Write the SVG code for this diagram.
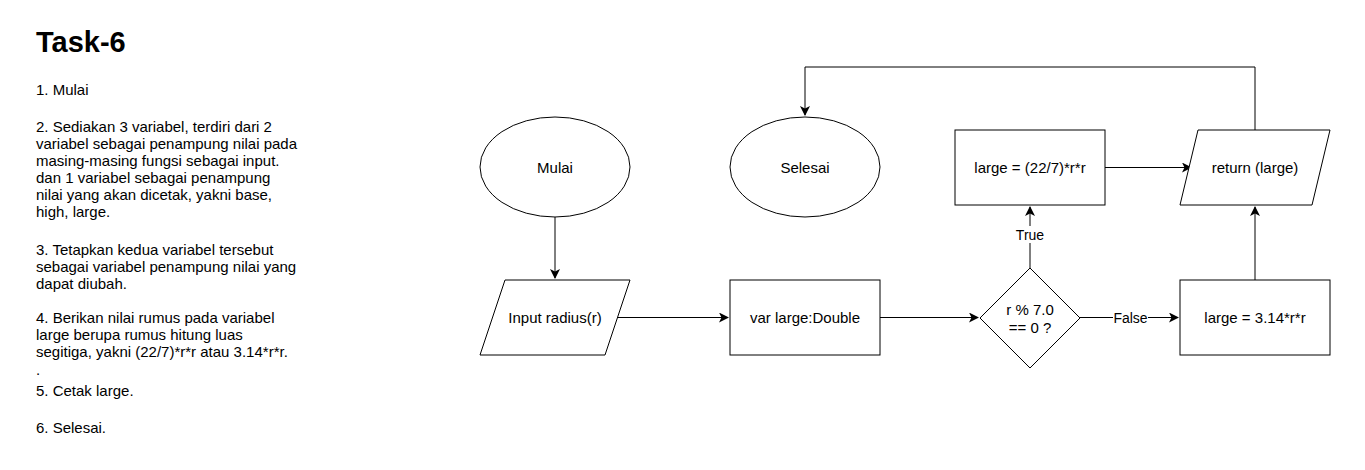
<svg xmlns="http://www.w3.org/2000/svg" width="1365" height="470" viewBox="0 0 1365 470">
<defs>
<style>
.n{fill:#fff;stroke:#000;stroke-width:1}
.t{font-family:"Liberation Sans",Arial,sans-serif;font-size:15px;fill:#000;text-anchor:middle;dominant-baseline:central}
.d{font-family:"Liberation Sans",Arial,sans-serif;font-size:15px;fill:#000}
.e{fill:none;stroke:#000;stroke-width:1}
.lb{fill:#fff}
</style>
<marker id="ah" viewBox="0 0 10 10" refX="9" refY="5" markerWidth="10" markerHeight="10" markerUnits="userSpaceOnUse" orient="auto">
<path d="M0,0 L10,5 L0,10 L2.5,5 Z" fill="#000"/>
</marker>
</defs>
<rect width="1365" height="470" fill="#fff"/>
<g id="description">
<text x="36" y="52" font-family="Liberation Sans,Arial,sans-serif" font-size="29" font-weight="bold">Task-6</text>
<text class="d" x="36" y="94.5">1. Mulai</text>
<text class="d" x="36" y="131.5">2. Sediakan 3 variabel, terdiri dari 2</text>
<text class="d" x="36" y="148.5">variabel sebagai penampung nilai pada</text>
<text class="d" x="36" y="165.5">masing-masing fungsi sebagai input.</text>
<text class="d" x="36" y="182.5">dan 1 variabel sebagai penampung</text>
<text class="d" x="36" y="199.5">nilai yang akan dicetak, yakni base,</text>
<text class="d" x="36" y="216.5">high, large.</text>
<text class="d" x="36" y="254.5">3. Tetapkan kedua variabel tersebut</text>
<text class="d" x="36" y="271.5">sebagai variabel penampung nilai yang</text>
<text class="d" x="36" y="288.5">dapat diubah.</text>
<text class="d" x="36" y="322.5">4. Berikan nilai rumus pada variabel</text>
<text class="d" x="36" y="339.5">large berupa rumus hitung luas</text>
<text class="d" x="36" y="356.5">segitiga, yakni (22/7)*r*r atau 3.14*r*r.</text>
<text class="d" x="36" y="375">.</text>
<text class="d" x="36" y="396">5. Cetak large.</text>
<text class="d" x="36" y="432.5">6. Selesai.</text>
</g>
<g id="connectors">
<path class="e" d="M555,217 L555,278" marker-end="url(#ah)"/>
<path class="e" d="M617,317.5 L728,317.5" marker-end="url(#ah)"/>
<path class="e" d="M880,317.5 L978,317.5" marker-end="url(#ah)"/>
<path class="e" d="M1080,317.5 L1178,317.5" marker-end="url(#ah)"/>
<path class="e" d="M1030,268 L1030,207" marker-end="url(#ah)"/>
<path class="e" d="M1105,167.5 L1191,167.5" marker-end="url(#ah)"/>
<path class="e" d="M1255,280 L1255,207" marker-end="url(#ah)"/>
<path class="e" d="M1255,130 L1255,67 L805,67 L805,115" marker-end="url(#ah)"/>
<rect class="lb" x="1113" y="309" width="35" height="17"/>
<text class="t" x="1130.5" y="317.5" style="font-size:14px">False</text>
<rect class="lb" x="1015" y="226" width="31" height="17"/>
<text class="t" x="1030" y="234.5" style="font-size:14px">True</text>
</g>
<g id="mulai">
<ellipse class="n" cx="555" cy="167" rx="75" ry="50"/>
<text class="t" x="555" y="167">Mulai</text>
</g>
<g id="selesai">
<ellipse class="n" cx="805" cy="167" rx="75" ry="50"/>
<text class="t" x="805" y="167">Selesai</text>
</g>
<g id="input">
<path class="n" d="M505,280 L630,280 L605,355 L480,355 Z"/>
<text class="t" x="555" y="317.5">Input radius(r)</text>
</g>
<g id="var">
<rect class="n" x="730" y="280" width="150" height="75"/>
<text class="t" x="805" y="317.5">var large:Double</text>
</g>
<g id="decision">
<path class="n" d="M1030,268 L1080,318 L1030,368 L980,318 Z"/>
<text class="t" x="1030" y="309">r % 7.0</text>
<text class="t" x="1030" y="327">== 0 ?</text>
</g>
<g id="large227">
<rect class="n" x="955" y="130" width="150" height="75"/>
<text class="t" x="1030" y="167.5">large = (22/7)*r*r</text>
</g>
<g id="return">
<path class="n" d="M1198,130 L1330,130 L1312,205 L1180,205 Z"/>
<text class="t" x="1255" y="167.5">return (large)</text>
</g>
<g id="large314">
<rect class="n" x="1180" y="280" width="150" height="75"/>
<text class="t" x="1255" y="317.5">large = 3.14*r*r</text>
</g>
</svg>
